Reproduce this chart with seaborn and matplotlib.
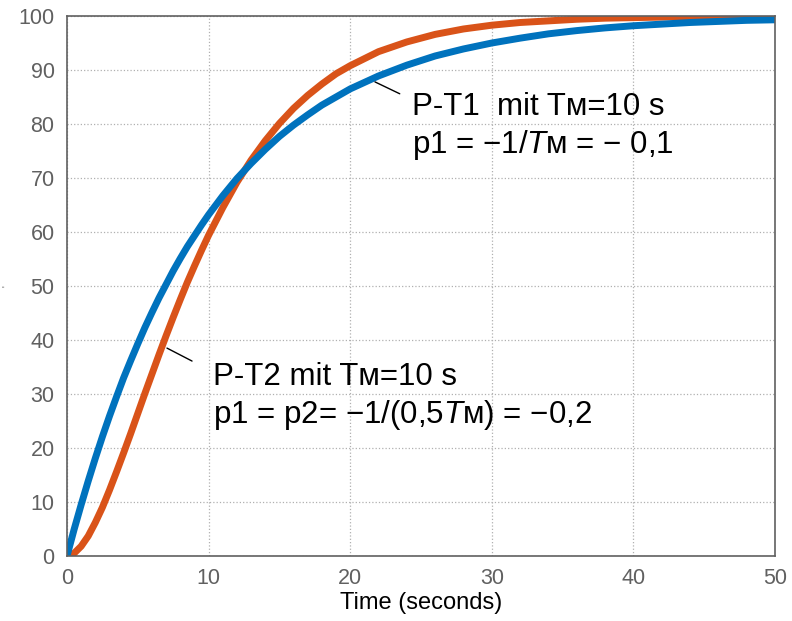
import numpy as np
import pandas as pd
import matplotlib
matplotlib.use("Agg")
import matplotlib.pyplot as plt
import seaborn as sns

# step responses (percent of final value)
t = [0, 0.5, 1, 1.5, 2, 2.5, 3, 3.5, 4, 4.5, 5, 5.5, 6, 6.5, 7, 7.5, 8, 8.5, 9, 9.5,
     10, 11, 12, 13, 14, 15, 16, 17, 18, 19, 20,
     22, 24, 26, 28, 30, 32, 34, 36, 38, 40, 42, 44, 46, 48, 50]
pt1 = [0, 4.9, 9.5, 13.9, 18.1, 22.1, 25.9, 29.5, 33.0, 36.2, 39.3, 42.3, 45.1,
       47.8, 50.3, 52.8, 55.1, 57.3, 59.3, 61.3,
       63.2, 66.7, 69.9, 72.7, 75.3, 77.7, 79.8, 81.7, 83.5, 85.0, 86.5,
       88.9, 90.9, 92.6, 93.9, 95.0, 95.9, 96.7, 97.3, 97.8, 98.2, 98.5, 98.8,
       99.0, 99.2, 99.3]
pt2 = [0, 0.5, 1.8, 3.7, 6.2, 9.0, 12.2, 15.6, 19.1, 22.7, 26.4, 30.1, 33.7,
       37.3, 40.8, 44.2, 47.5, 50.7, 53.7, 56.6,
       59.4, 64.5, 69.2, 73.3, 76.9, 80.1, 82.9, 85.3, 87.4, 89.3, 90.8,
       93.4, 95.2, 96.6, 97.6, 98.3, 98.8, 99.1, 99.4, 99.6, 99.7, 99.8, 99.9,
       99.9, 100.0, 100.0]

xticks = [0, 10, 20, 30, 40, 50]
yticks = [0, 10, 20, 30, 40, 50, 60, 70, 80, 90, 100]

df = pd.DataFrame({
    "t": t * 2,
    "y": pt2 + pt1,
    "sys": ["P-T2"] * len(t) + ["P-T1"] * len(t),
})

sns.set_style("white")
plt.rcParams["font.family"] = ["Liberation Sans", "DejaVu Sans"]
plt.rcParams["mathtext.fontset"] = "custom"
plt.rcParams["mathtext.rm"] = "Liberation Sans"
plt.rcParams["mathtext.it"] = "Liberation Sans:italic"
plt.rcParams["text.color"] = "black"

fig = plt.figure(figsize=(7.92, 6.21), dpi=100)
ax = fig.add_axes([0.0846, 0.1047, 0.8939, 0.8695])

sns.lineplot(data=df, x="t", y="y", hue="sys",
             palette={"P-T2": "#D95319", "P-T1": "#0072BD"},
             linewidth=5, legend=False, ax=ax, solid_capstyle="round")

ax.set_xlim(0, 50)
ax.set_ylim(0, 100)
ax.set_xticks(xticks)
ax.set_yticks(yticks)
ax.grid(True, color="#b0b0b0", linestyle=":", linewidth=0.9)
ax.tick_params(direction="in", length=5, width=1.2, colors="#606060",
               labelsize=15.5, labelcolor="#606060", top=False, right=False, pad=9)
for s in ax.spines.values():
    s.set_color("#606060")
    s.set_linewidth(1.2)
ax.set_xlabel("Time (seconds)", fontsize=17, color="black", labelpad=2)
ax.set_ylabel("'", fontsize=7, color="#606060")

fs = 22.5
ax.plot([21.75, 23.5], [87.8, 85.6], color="black", lw=1)
ax.text(24.4, 81.7, "P-T1  mit Tᴍ=10 s", fontsize=fs, va="baseline", color="black")
ax.text(24.4, 74.6, r"p1 = $-$1/$\mathit{T}$ᴍ = $-$ 0,1", fontsize=fs, va="baseline", color="black")

ax.plot([7.06, 8.83], [38.5, 36.1], color="black", lw=1)
ax.text(10.3, 31.7, "P-T2 mit Tᴍ=10 s", fontsize=fs, va="baseline", color="black")
ax.text(10.3, 24.6, r"p1 = p2= $-$1/(0,5$\mathit{T}$ᴍ) = $-$0,2", fontsize=fs, va="baseline", color="black")

fig.savefig("out.png", dpi=100)
